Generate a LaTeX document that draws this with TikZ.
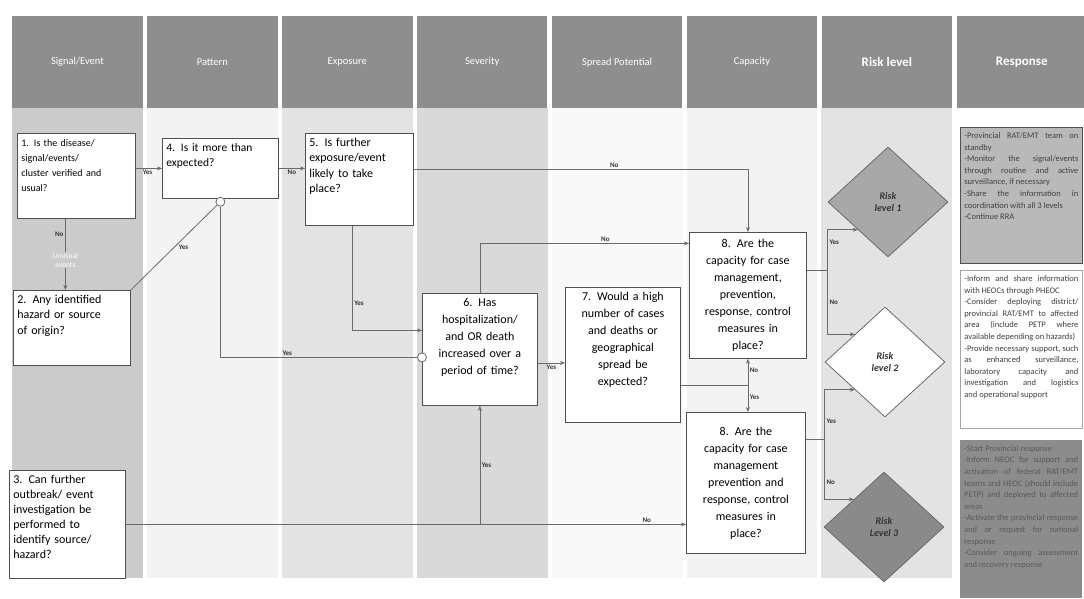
\documentclass[tikz,border=0pt]{standalone}
\usepackage{fontspec}
\setmainfont{Carlito}
\usepackage{xcolor}
\usepackage{tikz}
\usetikzlibrary{shapes.geometric, arrows.meta, positioning, calc}
\definecolor{headgray}{HTML}{8E8E8E}
\definecolor{linegray}{HTML}{6A6A6A}
\definecolor{boxline}{HTML}{505050}
\definecolor{shadeA}{HTML}{CBCBCB}
\definecolor{shadeB}{HTML}{D9D9D9}
\definecolor{shadeC}{HTML}{E3E3E3}
\definecolor{shadeD}{HTML}{F3F3F3}
\definecolor{riskone}{HTML}{A8A8A8}
\definecolor{riskthree}{HTML}{8A8A8A}
\definecolor{respone}{HTML}{B9B9B9}
\definecolor{respthree}{HTML}{8C8C8C}
\hyphenpenalty=10000
\exhyphenpenalty=10000

\begin{document}
\begin{tikzpicture}[
    x=1pt, y=-1pt,
    node distance=4pt,
    colhead/.style={
        fill=headgray, text=white, anchor=north west,
        minimum width=130.5pt, minimum height=92pt,
        inner sep=0pt, font=\fontsize{10.5}{12}\selectfont
    },
    question/.style={
        draw=boxline, line width=0.8pt, fill=white,
        anchor=north west, inner sep=4pt, text height=9pt,
        align=left, font=\fontsize{12}{15.5}\selectfont
    },
    capbox/.style={
        question, align=center, font=\fontsize{12}{17}\selectfont
    },
    risk/.style={
        diamond, draw=linegray, line width=0.8pt,
        minimum width=120pt, minimum height=110pt, inner sep=0pt,
        align=center, text=black!80,
        font=\fontsize{10}{12}\selectfont\bfseries\itshape
    },
    action/.style={
        anchor=north west, text width=114pt, inner sep=4pt, text height=7pt,
        align=justify, text=black!75,
        font=\fontsize{8.5}{11.6}\selectfont
    },
    junction/.style={
        circle, draw=linegray, line width=0.8pt, fill=white,
        minimum size=9pt, inner sep=0pt
    },
    arr/.style={
        -{Stealth[length=5pt, width=4pt]}, draw=linegray, line width=0.8pt
    },
    link/.style={draw=linegray, line width=0.8pt},
    tag/.style={font=\fontsize{7}{8}\selectfont\bfseries, text=black!80, inner sep=1.5pt},
]
\useasboundingbox (0,0) rectangle (1084,598);
\coordinate (floor) at (0,578);

% column headers
\node[colhead] (hsignal) at (12,16) {Signal/Event};
\node[colhead, right=of hsignal] (hpattern) {Pattern};
\node[colhead, right=of hpattern] (hexposure) {Exposure};
\node[colhead, right=of hexposure] (hseverity) {Severity};
\node[colhead, right=of hseverity] (hspread) {Spread Potential};
\node[colhead, right=of hspread] (hcapacity) {Capacity};
\node[colhead, right=of hcapacity, font=\fontsize{13}{15}\selectfont\bfseries] (hrisk) {Risk level};
\node[colhead, right=of hrisk, font=\fontsize{13}{15}\selectfont\bfseries] (hresponse) {Response};

% column shading
\fill[shadeA] (hsignal.south west) rectangle (hsignal.south east |- floor);
\fill[shadeD] (hpattern.south west) rectangle (hpattern.south east |- floor);
\fill[shadeC] (hexposure.south west) rectangle (hexposure.south east |- floor);
\fill[shadeB] (hseverity.south west) rectangle (hseverity.south east |- floor);
\fill[shadeD!60!white] (hspread.south west) rectangle (hspread.south east |- floor);
\fill[shadeD] (hcapacity.south west) rectangle (hcapacity.south east |- floor);
\fill[shadeC] (hrisk.south west) rectangle (hrisk.south east |- floor);

% questions
\node[question, text width=110pt, text depth=68pt, font=\fontsize{10}{15}\selectfont] (q1) at (17,133)
    {1. Is the disease/\\signal/events/\\cluster verified and\\usual?};
\node[question, text width=109pt, text depth=58pt] (q2) at (13,290)
    {2. Any identified\\hazard or source\\of origin?};
\node[question, text width=108pt, text depth=91pt, font=\fontsize{12}{15}\selectfont] (q3) at (9,470)
    {3. Can further\\outbreak/ event\\investigation be\\performed to\\identify source/\\hazard?};
\node[question, text width=108pt, text depth=43pt, font=\fontsize{11.5}{15}\selectfont] (q4) at (162,138)
    {4. Is it more than\\expected?};
\node[question, text width=100pt, text depth=75pt] (q5) at (305,133)
    {5. Is further\\exposure/event\\likely to take\\place?};
\node[capbox, text width=107pt, text depth=95pt] (q6) at (422,293)
    {6. Has\\hospitalization/\\and OR death\\increased over a\\period of time?};
\node[capbox, text width=107pt, text depth=118pt] (q7) at (565,287)
    {7. Would a high\\number of cases\\and deaths or\\geographical\\spread be\\expected?};
\node[capbox, text width=109pt, minimum height=126pt] (q8a) at (689,232)
    {8. Are the\\capacity for case\\management,\\prevention,\\response, control\\measures in\\place?};
\node[capbox, text width=111pt, minimum height=141pt] (q8b) at (686,412)
    {8. Are the\\capacity for case\\management\\prevention and\\response, control\\measures in\\place?};

% risk levels
\node[risk, fill=riskone] (d1) at (888,202) {Risk\\level 1};
\node[risk, fill=white] (d2) at (885,362) {Risk\\level 2};
\node[risk, fill=riskthree] (d3) at (884,527) {Risk\\Level 3};

% responses
\node[action, fill=respone, draw=boxline, line width=0.8pt, text depth=121pt] (r1) at (960,127)
    {-Provincial RAT/EMT team on standby\\
     -Monitor the signal/events through routine and active surveillance, if necessary\\
     -Share the information in coordination with all 3 levels\\
     -Continue RRA};
\node[action, fill=white, draw=gray!70, line width=0.8pt, text depth=143pt] (r2) at (960,270)
    {-Inform and share information with HEOCs through PHEOC\\
     -Consider deploying district/ provincial RAT/EMT to affected area (include PETP where available depending on hazards)\\
     -Provide necessary support, such as enhanced surveillance, laboratory capacity and investigation and logistics and operational support};
\node[action, fill=respthree, text=black!65, text depth=143pt] (r3) at (960,440)
    {-Start Provincial response\\
     -Inform NEOC for support and activation of federal RAT/EMT teams and HEOC (should include PETP) and deployed to affected areas\\
     -Activate the provincial response and or request for national response\\
     -Consider ongoing assessment and recovery response};

% junctions
\node[junction] (c1) at ([yshift=-3pt]q4.south) {};
\node[junction] (c2) at ([yshift=-8pt]q6.west) {};

% connectors
\draw[arr] ([xshift=-11pt]q1.south) coordinate (s1)
    -- node[tag, left, pos=0.22] {No}
       node[pos=0.58, align=center, fill=shadeA, inner sep=1pt, text=white,
            font=\fontsize{7.5}{9}\selectfont] {Unusual\\events}
    (s1 |- q2.north);
\draw[arr] (q4.west -| q1.east) -- node[tag, below, pos=0.45] {Yes} (q4.west);
\draw[arr] (q4.east) -- node[tag, below, pos=0.5] {No} (q4.east -| q5.west);
\draw[link] (q2.north east) -- node[tag, right, pos=0.5, xshift=3pt] {Yes} (c1);
\draw[link] (c1) |- node[tag, above, pos=0.67] {Yes} (c2);
\draw[arr] ([xshift=-7pt]q5.south) |- node[tag, right, pos=0.37] {Yes} ([yshift=19pt]q6.west);
\draw[arr] ([yshift=10pt]q5.east) -| node[tag, above, pos=0.3] {No} (q8a.north);
\draw[arr] (q6.north) |- node[tag, above, pos=0.8] {No} ([yshift=52pt]q8a.west);
\draw[arr] ([yshift=-8pt]q7.west -| q6.east) -- node[tag, below] {Yes} ([yshift=-8pt]q7.west);
\draw[link] ([yshift=-30pt]q7.east) coordinate (s7) -- (q8a.south |- s7) coordinate (j7);
\draw[arr] (j7) -- node[tag, right, pos=0.55] {No} (q8a.south);
\draw[arr] (j7) -- node[tag, right, pos=0.45] {Yes} (j7 |- q8b.north);
\draw[arr] (q3.east) -- node[tag, above, pos=0.93] {No} (q3.east -| q8b.west);
\draw[arr] (q6.south |- q3.east) -- node[tag, right, pos=0.5] {Yes} (q6.south);
\draw[link] ([yshift=25pt]q8a.east) coordinate (s8a) -- (s8a -| d1.west) coordinate (j8a);
\draw[arr] (j8a) |- node[tag, right, pos=0.35] {Yes} (d1.south west);
\draw[arr] (j8a) |- node[tag, right, pos=0.25] {No} (d2.north west);
\draw[link] ([yshift=44pt]q8b.east) coordinate (s8b) -- (s8b -| d2.west) coordinate (j8b);
\draw[arr] (j8b) |- node[tag, right, pos=0.18] {Yes} (d2.south west);
\draw[arr] (j8b) |- node[tag, right, pos=0.36] {No} (d3.north west);
\end{tikzpicture}
\end{document}
